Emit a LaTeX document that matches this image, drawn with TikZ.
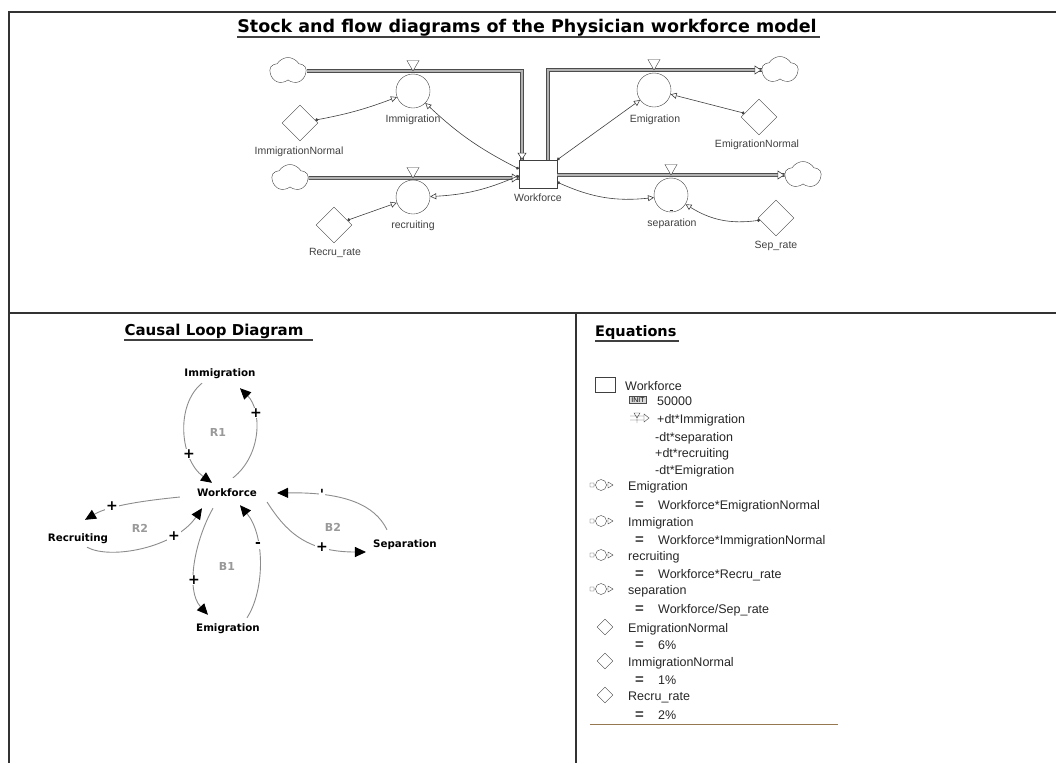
\documentclass[tikz,border=0pt]{standalone}
\usepackage{fontspec}
\setmainfont{Liberation Sans}
\newfontfamily\comicfont{DejaVu Sans}
\usetikzlibrary{arrows.meta,shapes.geometric,shapes.symbols,positioning,calc}
\definecolor{eqline}{RGB}{150,120,80}
\tikzset{%
  frame/.style    = {line width=1.4pt, draw=black!80},%
  ttl/.style      = {font=\comicfont\bfseries\fontsize{17.5}{20}\selectfont, inner sep=0pt, anchor=base},%
  uline/.style    = {line width=2pt, draw=black!75},%
  cloudy/.style   = {cloud, cloud puffs=5, cloud puff arc=120, aspect=1.3, draw=black!75, minimum width=36pt, minimum height=27pt, inner sep=0pt},%
  valve/.style    = {circle, draw=black!75, minimum size=34pt, inner sep=0pt},%
  stock/.style    = {rectangle, draw=black!75, minimum width=38pt, minimum height=28pt, inner sep=0pt},%
  conv/.style     = {diamond, draw=black!75, minimum width=36pt, minimum height=36pt, inner sep=0pt},%
  gate/.style     = {regular polygon, regular polygon sides=3, shape border rotate=180, draw=black!75, fill=white, minimum size=14pt, inner sep=0pt},%
  pipe/.style     = {draw=black!70, double=black!30, double distance=2pt, line width=0.9pt},%
  pipetip/.style  = {-{Triangle[fill=white,length=7pt,width=9pt]}, draw=black!75, line width=0.6pt},%
  conn/.style     = {draw=black!75, line width=0.6pt, {Circle[length=3pt]}-{Triangle[fill=white,length=6pt,width=6pt]}},%
  lbl/.style      = {font=\fontsize{10.5}{12}\selectfont, text=black!75, inner sep=0pt},%
  cvar/.style     = {font=\comicfont\bfseries\fontsize{10.3}{12}\selectfont, inner sep=0pt, text height=8pt, text depth=2pt},%
  cld/.style      = {draw=black!45, line width=0.9pt, -{Triangle[length=11pt,width=10pt,color=black]}},%
  sgn/.style      = {font=\comicfont\bfseries\fontsize{14}{14}\selectfont, fill=white, inner sep=1pt},%
  loopname/.style = {font=\comicfont\bfseries\fontsize{11}{12}\selectfont, text=black!40},%
  eq/.style       = {font=\fontsize{12.5}{14}\selectfont, text=black!85, inner sep=0pt, anchor=base west},%
  eqs/.style      = {font=\bfseries\fontsize{15}{15}\selectfont, text=black!75, inner sep=0pt, anchor=base west},%
  initbox/.style  = {draw=black!70, fill=black!15, font=\fontsize{7}{7}\selectfont, inner sep=1pt, minimum width=17pt},%
  convicon/.style = {diamond, draw=black!75, minimum size=16pt, inner sep=0pt},%
  valveicon/.pic  = {\draw[black!75] (-11,-2) rectangle (-7,2) (-7,0) -- (-5.5,0) (0,0) circle (5.5) (5.5,0) -- (7,0);
                     \draw[black!75,fill=white] (7,-3) -- (12,0) -- (7,3) -- cycle;},%
  flowicon/.pic   = {\draw[black!75] (-9,-2) -- (5,-2) (-9,2) -- (5,2) (-5,-5) -- (1,-5) -- (-2,0) -- cycle (-2,0) -- (-2,5);
                     \draw[black!75,fill=white] (5,-4) -- (10,0) -- (5,4) -- cycle;}%
}
\begin{document}
\begin{tikzpicture}[x=1pt,y=-1pt]
\useasboundingbox (0,0) rectangle (1056,763);
% frame
\draw[frame] (1056,12) -- (9,12) -- (9,763);
\draw[frame] (9,313) -- (1056,313);
\draw[frame] (576,313) -- (576,763);

% stock and flow diagram
\node[ttl] (t1) at (527,32) {Stock and flow diagrams of the Physician workforce model};
\draw[uline] ([yshift=-5pt]t1.base west) -- ([yshift=-5pt,xshift=3pt]t1.base east);

\node[cloudy] (cl1) at (288,71) {};
\node[cloudy] (cl2) at (290,178) {};
\node[cloudy] (cl3) at (780,70) {};
\node[cloudy] (cl4) at (803,175) {};
\node[stock] (wf) at (538,174) {};
\node[valve] (imm) at (413,91) {};
\node[valve] (rec) at (413,197) {};
\node[valve] (emi) at (654,90) {};
\node[valve] (sep) at (671,195) {};
\node[conv] (imn) at (300,123) {};
\node[conv] (rrt) at (334,225) {};
\node[conv] (emn) at (759,117) {};
\node[conv] (srt) at (776,218) {};

\draw[pipe] (cl1.east) -| ([xshift=-16pt]wf.north);
\draw[pipe] (cl2.east) -- (cl2 -| wf.west);
\draw[pipe] ([xshift=10pt]wf.north) |- (cl3.west);
\draw[pipe] (cl4 -| wf.east) -- (cl4.west);
\draw[pipetip] ([xshift=-16pt,yshift=1pt]wf.north) -- ([xshift=-16pt]wf.north);
\draw[pipetip] ($(cl2 -| wf.west)+(-1,0)$) -- (cl2 -| wf.west);
\draw[pipetip] ($(cl3.west)+(-1,0)$) -- (cl3.west);
\draw[pipetip] ($(cl4.west)+(-1,0)$) -- (cl4.west);

\node[gate] (g1) at (413,64) {};
\node[gate] (g2) at (413,171) {};
\node[gate] (g3) at (654,63) {};
\node[gate] (g4) at (671,168) {};
\draw[black!80, line width=1.2pt] ($(sep.south)+(-1.5,-2)$) -- ++(3,0);

\draw[conn] (imn) to[bend right=5] (imm);
\draw[conn] (wf.165) to[bend left=8] (imm);
\draw[conn] (rrt) -- (rec);
\draw[conn] (wf.185) to[bend left=10] (rec);
\draw[conn] (wf.north east) -- (emi);
\draw[conn] (emn) -- (emi);
\draw[conn] (wf.-23) to[bend right=15] (sep);
\draw[conn] (srt) to[bend left=20] (sep);

\node[lbl] (imml) at (413,120) {Immigration};
\node[lbl] (imnl) at (299,152) {ImmigrationNormal};
\node[lbl] (recl) at (413,226) {recruiting};
\node[lbl] (rrtl) at (335,253) {Recru\_rate};
\node[lbl] (wfl) at (538,198) {Workforce};
\node[lbl] (emil) at (655,120) {Emigration};
\node[lbl] (emnl) at (757,145) {EmigrationNormal};
\node[lbl] (sepl) at (672,224) {separation};
\node[lbl] (srtl) at (776,246) {Sep\_rate};

% causal loop diagram
\node[ttl, font=\comicfont\bfseries\fontsize{15}{18}\selectfont] (t2) at (214,335) {Causal Loop Diagram};
\draw[uline] ([yshift=-5pt]t2.base west) -- ([yshift=-5pt,xshift=9pt]t2.base east);

\node[cvar] (cwf) at (227,493) {Workforce};
\node[cvar] (cim) at (220,373) {Immigration};
\node[cvar] (crc) at (78,538) {Recruiting};
\node[cvar] (csp) at (405,544) {Separation};
\node[cvar] (cem) at (228,628) {Emigration};

\draw[cld] ([shift={(6,-10)}]cwf.north) .. controls (262,455) and (262,410) .. ([shift={(20,10)}]cim.south);
\draw[cld] ([shift={(-18,5)}]cim.south) .. controls (175,405) and (180,460) .. ([shift={(-15,-5)}]cwf.north);
\draw[cld] ([shift={(-17,4)}]cwf.west) .. controls (150,500) and (110,505) .. ([shift={(7,-13)}]crc.north);
\draw[cld] ([shift={(9,4)}]crc.south) .. controls (110,560) and (175,548) .. ([shift={(-25,10)}]cwf.south);
\draw[cld] ([shift={(-14,10)}]cwf.south) .. controls (195,540) and (185,590) .. ([shift={(-20,-8)}]cem.north);
\draw[cld] ([shift={(19,-5)}]cem.north) .. controls (265,590) and (265,535) .. ([shift={(13,7)}]cwf.south);
\draw[cld] ([shift={(10,9)}]cwf.east) .. controls (285,530) and (305,552) .. ([shift={(-7,8)}]csp.west);
\draw[cld] ([shift={(-18,-9)}]csp.north) .. controls (375,505) and (345,492) .. ([shift={(20,0)}]cwf.east);

\node[sgn] (s1) at (256,413) {+};
\node[sgn] (s2) at (189,454) {+};
\node[sgn] (s3) at (112,506) {+};
\node[sgn] (s4) at (174,536) {+};
\node[sgn] (s5) at (194,580) {+};
\node[sgn] (s6) at (258,545) {-};
\node[sgn] (s7) at (322,547) {+};
\node[sgn] (s8) at (322,494) {'};

\node[loopname] (r1) at (218,432) {R1};
\node[loopname] (r2) at (140,528) {R2};
\node[loopname] (b1) at (227,566) {B1};
\node[loopname] (b2) at (333,527) {B2};

% equations
\node[ttl, anchor=base west, font=\comicfont\bfseries\fontsize{14.5}{17}\selectfont] (t3) at (595,336) {Equations};
\draw[uline] ([yshift=-5pt]t3.base west) -- ([yshift=-5pt,xshift=2pt]t3.base east);

\node[draw=black!75, minimum width=20pt, minimum height=15pt, inner sep=0pt] (eWfI) at (605,385) {};
\node[eq] (eWf) at (625,390) {Workforce};
\node[initbox] (eInit) at (638,400) {INIT};
\node[eq] (eInitV) at (657,405) {50000};
\pic at (639,418) {flowicon};
\node[eq] (eF1) at (657,423) {+dt*Immigration};
\node[eq] (eF2) at (655,441) {-dt*separation};
\node[eq] (eF3) at (655,457) {+dt*recruiting};
\node[eq] (eF4) at (655,474) {-dt*Emigration};

\pic at (601,485) {valveicon};
\node[eq] (eEm) at (628,490) {Emigration};
\node[eqs] (eEmS) at (635,509) {=};
\node[eq] (eEmR) at (658,509) {Workforce*EmigrationNormal};
\pic at (601,521) {valveicon};
\node[eq] (eIm) at (628,526) {Immigration};
\node[eqs] (eImS) at (635,544) {=};
\node[eq] (eImR) at (658,544) {Workforce*ImmigrationNormal};
\pic at (601,555) {valveicon};
\node[eq] (eRc) at (628,560) {recruiting};
\node[eqs] (eRcS) at (635,578) {=};
\node[eq] (eRcR) at (658,578) {Workforce*Recru\_rate};
\pic at (601,589) {valveicon};
\node[eq] (eSp) at (628,594) {separation};
\node[eqs] (eSpS) at (635,613) {=};
\node[eq] (eSpR) at (658,613) {Workforce/Sep\_rate};

\node[convicon] (eEnI) at (605,627) {};
\node[eq] (eEn) at (628,632) {EmigrationNormal};
\node[eqs] (eEnS) at (635,649) {=};
\node[eq] (eEnR) at (658,649) {6\%};
\node[convicon] (eInI) at (605,661) {};
\node[eq] (eIn) at (628,666) {ImmigrationNormal};
\node[eqs] (eInS) at (635,684) {=};
\node[eq] (eInR) at (658,684) {1\%};
\node[convicon] (eRrI) at (605,695) {};
\node[eq] (eRr) at (628,700) {Recru\_rate};
\node[eqs] (eRrS) at (635,719) {=};
\node[eq] (eRrR) at (658,719) {2\%};
\draw[draw=eqline, line width=1pt] (590,724) -- (838,724);
\end{tikzpicture}
\end{document}
